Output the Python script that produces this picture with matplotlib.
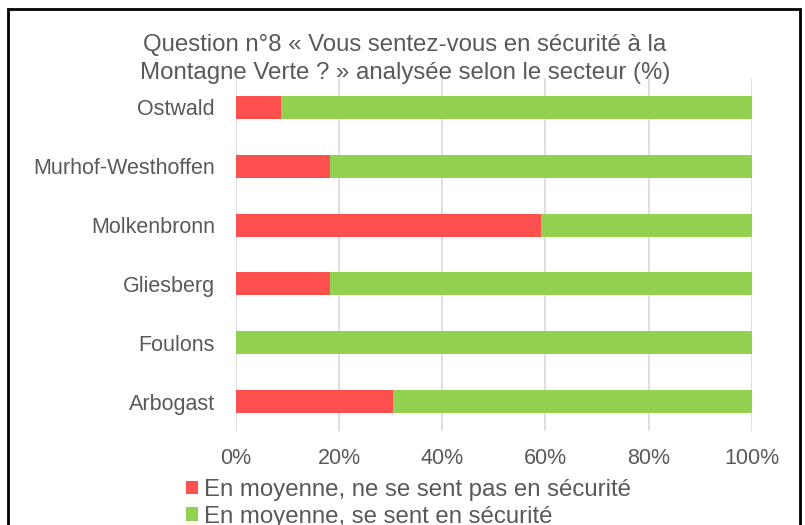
import matplotlib
matplotlib.use("Agg")
import matplotlib.pyplot as plt
from matplotlib.patches import Rectangle
from matplotlib.ticker import FuncFormatter

categories = ["Arbogast", "Foulons", "Gliesberg", "Molkenbronn", "Murhof-Westhoffen", "Ostwald"]
pas_securite = [30.5, 0.0, 18.3, 59.1, 18.3, 8.8]
securite = [69.5, 100.0, 81.7, 40.9, 81.7, 91.2]
series_labels = ["En moyenne, ne se sent pas en sécurité", "En moyenne, se sent en sécurité"]
xticks = [0, 20, 40, 60, 80, 100]

RED = "#FF5050"
GREEN = "#92D050"
TXT = "#595959"

plt.rcParams["font.family"] = ["Liberation Sans", "DejaVu Sans"]

W, H = 805, 525
fig = plt.figure(figsize=(W / 100, H / 100), dpi=100)
ax = fig.add_axes([235.7 / W, 1 - 431 / H, (752 - 235.7) / W, (431 - 78) / H])

y = range(len(categories))
b1 = ax.barh(y, pas_securite, height=0.39, color=RED, label=series_labels[0], zorder=3)
b2 = ax.barh(y, securite, left=pas_securite, height=0.39, color=GREEN, label=series_labels[1], zorder=3)

ax.set_xlim(0, 100)
ax.set_ylim(-0.5, len(categories) - 0.5)
ax.set_yticks(list(y))
ax.set_yticklabels(categories, fontsize=15.5, color=TXT)
ax.set_xticks(xticks)
ax.xaxis.set_major_formatter(FuncFormatter(lambda v, p: f"{v:.0f}%"))
ax.tick_params(axis="x", labelsize=15.5, labelcolor=TXT, length=0, pad=12)
ax.tick_params(axis="y", length=0, pad=15)
ax.grid(axis="x", color="#D9D9D9", linewidth=1.2, zorder=0)
for s in ax.spines.values():
    s.set_visible(False)

fig.text(405 / W, 1 - 59 / H, "Question n°8 « Vous sentez-vous en sécurité à la\nMontagne Verte ? » analysée selon le secteur (%)",
         ha="center", va="center", fontsize=17.3, color=TXT, linespacing=1.3)

leg = fig.legend(handles=[b1, b2], labels=series_labels, loc="upper left",
                 bbox_to_anchor=(186 / W, 1 - 479 / H), frameon=False, fontsize=17.3,
                 labelcolor=TXT, handlelength=0.5, handleheight=0.5, handletextpad=0.25,
                 labelspacing=0.2, borderaxespad=0, borderpad=0)

fig.patches.append(Rectangle((8 / W, -0.1), (800 - 8) / W, 1 - 9 / H + 0.1, transform=fig.transFigure,
                             fill=False, edgecolor="black", linewidth=2))

fig.savefig("out.png", dpi=100)
